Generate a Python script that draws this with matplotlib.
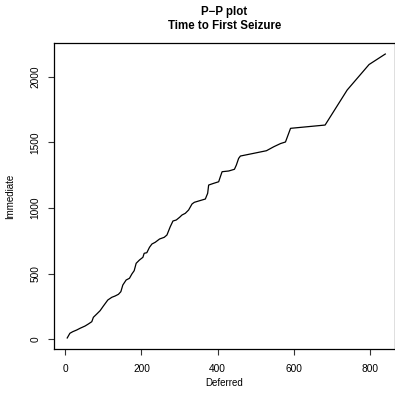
import matplotlib
matplotlib.use("Agg")
import matplotlib.pyplot as plt

deferred = [5, 12, 19.5, 30, 38.7, 51.8, 60.5, 69.5, 73.7, 82.6, 91.3, 100, 111.6,
            122.1, 130.8, 139.5, 145.8, 151, 159.7, 168.4, 174.7, 180.8, 186, 194.7,
            203.7, 207, 214, 221, 227.4, 236, 247.4, 259.7, 266.8, 275.5, 282.6, 291.3,
            300, 306.3, 315, 323.7, 332.6, 338.7, 350, 367.6, 373.7, 376.3, 389.5, 402.6,
            407, 411.6, 429, 444, 449, 455, 459.7, 494.7, 528, 547.4, 565, 578, 591.3,
            682, 740, 797.4, 840]
immediate = [10, 45.7, 57.9, 70.8, 83.8, 101, 116.5, 134, 167.6, 192.7, 217.8, 253.6,
             299.3, 319.9, 329.8, 342.7, 362.5, 413.5, 451.6, 464.6, 497.3, 522.5, 578.8,
             604, 624.5, 655, 659.6, 700.7, 725.8, 738.8, 763.9, 776.8, 794.4, 857.6, 901,
             908.7, 929.2, 946.7, 959.6, 984.8, 1030.5, 1043.4, 1053.3, 1068.5, 1112, 1175,
             1188, 1200, 1238, 1276.5, 1282, 1295, 1327, 1378, 1396, 1416.6, 1436.4,
             1466.9, 1491, 1503, 1607, 1632, 1899, 2093, 2173]
xticks = [0, 200, 400, 600, 800]
yticks = [0, 500, 1000, 1500, 2000]

plt.rcParams['font.family'] = ['Liberation Sans', 'DejaVu Sans']
fig = plt.figure(figsize=(3.95, 3.96), dpi=100)
W, H = 395, 396
ax = fig.add_axes([54 / W, (H - 349) / H, (394.8 - 54) / W, (349 - 43) / H])
ax.plot(deferred, immediate, color='black', lw=0.9)

ax.set_xlim(-29.7, 865)
ax.set_ylim(-74, 2257)
ax.set_xticks(xticks)
ax.set_yticks(yticks)
ax.set_xticklabels([str(t) for t in xticks], fontsize=7.3)
ax.set_yticklabels([str(t) for t in yticks], fontsize=7.3, rotation=90, va='center')
ax.tick_params(direction='out', length=4.3, width=0.8, color='#333333')
ax.tick_params(axis='x', pad=6.5)
ax.tick_params(axis='y', pad=5.5)
for s in ax.spines.values():
    s.set_linewidth(0.9)

fig.text(0.5 * (54 + 394.8) / W + 0.0, 1 - 12 / H, "P\u2212P plot", ha='center', va='center',
         fontsize=8.3, fontweight='bold')
fig.text(0.5 * (54 + 394.8) / W, 1 - 26 / H, "Time to First Seizure", ha='center', va='center',
         fontsize=8.3, fontweight='bold')
fig.text(0.5 * (54 + 394.8) / W, 1 - 383 / H, "Deferred", ha='center', va='center', fontsize=7)
fig.text(10 / W, 1 - 196 / H, "Immediate", ha='center', va='center', fontsize=7, rotation=90)

fig.savefig("out.png", dpi=100)
